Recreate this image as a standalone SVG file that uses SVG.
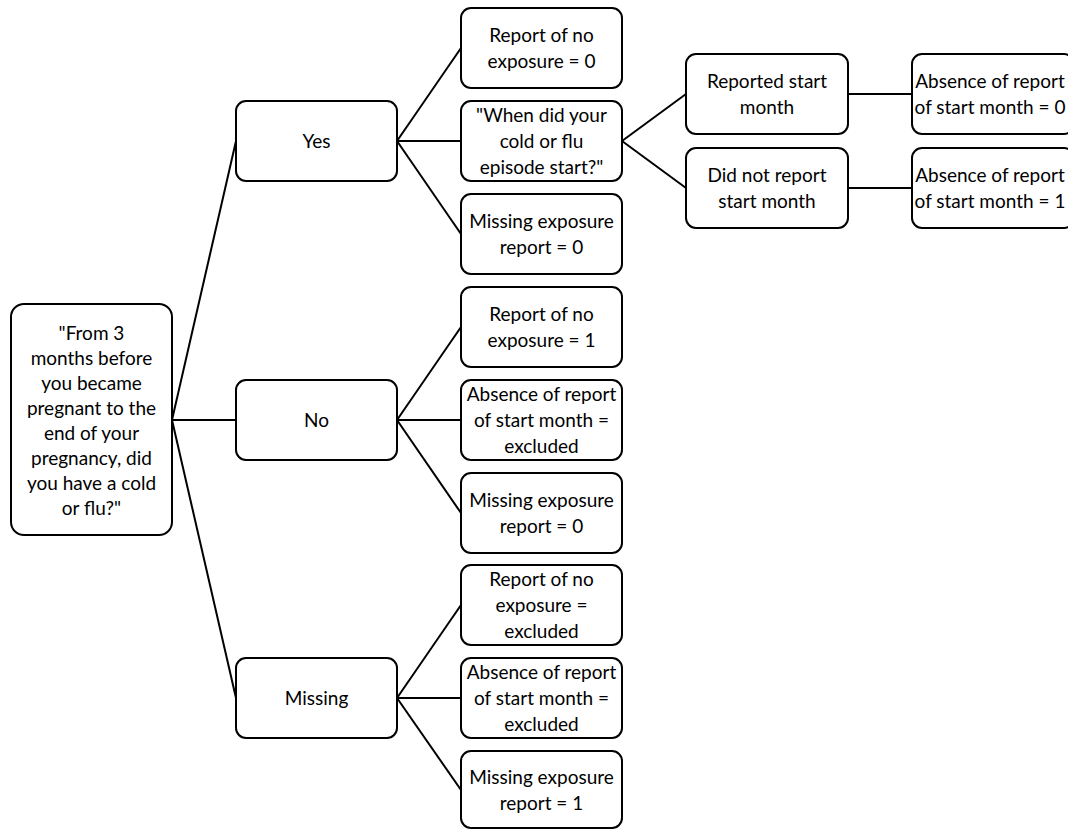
<svg xmlns="http://www.w3.org/2000/svg" width="1068" height="829" viewBox="0 0 1068 829">
<style>
.box{fill:#fff;stroke:#000;stroke-width:2}
.t{font-family:Lato,"Open Sans",sans-serif;font-size:19px;fill:#000;text-anchor:middle}
.c{stroke:#000;stroke-width:2;fill:none}
</style>
<rect width="1068" height="829" fill="#fff"/>
<g id="connectors">
<line class="c" x1="172" y1="420" x2="236" y2="141"/>
<line class="c" x1="172" y1="420" x2="236" y2="420"/>
<line class="c" x1="172" y1="420" x2="236" y2="698"/>
<line class="c" x1="397" y1="141" x2="461" y2="48"/>
<line class="c" x1="397" y1="141" x2="461" y2="141"/>
<line class="c" x1="397" y1="141" x2="461" y2="234"/>
<line class="c" x1="397" y1="420" x2="461" y2="327"/>
<line class="c" x1="397" y1="420" x2="461" y2="420"/>
<line class="c" x1="397" y1="420" x2="461" y2="513"/>
<line class="c" x1="397" y1="698" x2="461" y2="605"/>
<line class="c" x1="397" y1="698" x2="461" y2="698"/>
<line class="c" x1="397" y1="698" x2="461" y2="790"/>
<line class="c" x1="622" y1="141" x2="686" y2="94"/>
<line class="c" x1="622" y1="141" x2="686" y2="188"/>
<line class="c" x1="848" y1="94" x2="912" y2="94"/>
<line class="c" x1="848" y1="188" x2="912" y2="188"/>
</g>
<g id="root">
<rect class="box" x="11" y="304" width="161" height="231" rx="13"/>
<text class="t"><tspan x="91.5" y="340">"From 3</tspan><tspan x="91.5" y="365">months before</tspan><tspan x="91.5" y="390">you became</tspan><tspan x="91.5" y="415">pregnant to the</tspan><tspan x="91.5" y="440">end of your</tspan><tspan x="91.5" y="465">pregnancy, did</tspan><tspan x="91.5" y="490">you have a cold</tspan><tspan x="91.5" y="515">or flu?"</tspan></text>
</g>
<g id="yes">
<rect class="box" x="236" y="101" width="161" height="80" rx="10"/>
<text class="t" x="316.5" y="148">Yes</text>
</g>
<g id="no">
<rect class="box" x="236" y="380" width="161" height="80" rx="10"/>
<text class="t" x="316.5" y="427">No</text>
</g>
<g id="missing">
<rect class="box" x="236" y="658" width="161" height="80" rx="10"/>
<text class="t" x="316.5" y="705">Missing</text>
</g>
<g id="yes-noexp">
<rect class="box" x="461" y="8" width="161" height="80" rx="10"/>
<text class="t"><tspan x="541.5" y="42">Report of no</tspan><tspan x="541.5" y="68">exposure = 0</tspan></text>
</g>
<g id="yes-when">
<rect class="box" x="461" y="101" width="161" height="80" rx="10"/>
<text class="t"><tspan x="541.5" y="122">"When did your</tspan><tspan x="541.5" y="148">cold or flu</tspan><tspan x="541.5" y="174">episode start?"</tspan></text>
</g>
<g id="yes-missing">
<rect class="box" x="461" y="194" width="161" height="80" rx="10"/>
<text class="t"><tspan x="541.5" y="228">Missing exposure</tspan><tspan x="541.5" y="254">report = 0</tspan></text>
</g>
<g id="no-noexp">
<rect class="box" x="461" y="287" width="161" height="80" rx="10"/>
<text class="t"><tspan x="541.5" y="321">Report of no</tspan><tspan x="541.5" y="347">exposure = 1</tspan></text>
</g>
<g id="no-absence">
<rect class="box" x="461" y="380" width="161" height="80" rx="10"/>
<text class="t"><tspan x="541.5" y="401">Absence of report</tspan><tspan x="541.5" y="427">of start month =</tspan><tspan x="541.5" y="453">excluded</tspan></text>
</g>
<g id="no-missing">
<rect class="box" x="461" y="473" width="161" height="80" rx="10"/>
<text class="t"><tspan x="541.5" y="507">Missing exposure</tspan><tspan x="541.5" y="533">report = 0</tspan></text>
</g>
<g id="missing-noexp">
<rect class="box" x="461" y="565" width="161" height="80" rx="10"/>
<text class="t"><tspan x="541.5" y="586">Report of no</tspan><tspan x="541.5" y="612">exposure =</tspan><tspan x="541.5" y="638">excluded</tspan></text>
</g>
<g id="missing-absence">
<rect class="box" x="461" y="658" width="161" height="80" rx="10"/>
<text class="t"><tspan x="541.5" y="679">Absence of report</tspan><tspan x="541.5" y="705">of start month =</tspan><tspan x="541.5" y="731">excluded</tspan></text>
</g>
<g id="missing-missing">
<rect class="box" x="461" y="751" width="161" height="77" rx="10"/>
<text class="t"><tspan x="541.5" y="784">Missing exposure</tspan><tspan x="541.5" y="810">report = 1</tspan></text>
</g>
<g id="reported">
<rect class="box" x="686" y="54" width="162" height="80" rx="10"/>
<text class="t"><tspan x="767" y="88">Reported start</tspan><tspan x="767" y="114">month</tspan></text>
</g>
<g id="notreported">
<rect class="box" x="686" y="148" width="162" height="80" rx="10"/>
<text class="t"><tspan x="767" y="182">Did not report</tspan><tspan x="767" y="208">start month</tspan></text>
</g>
<g id="absence0">
<rect class="box" x="912" y="54" width="162" height="80" rx="10"/>
<text class="t"><tspan x="990" y="88">Absence of report</tspan><tspan x="990" y="114">of start month = 0</tspan></text>
</g>
<g id="absence1">
<rect class="box" x="912" y="148" width="162" height="80" rx="10"/>
<text class="t"><tspan x="990" y="182">Absence of report</tspan><tspan x="990" y="208">of start month = 1</tspan></text>
</g>
</svg>
